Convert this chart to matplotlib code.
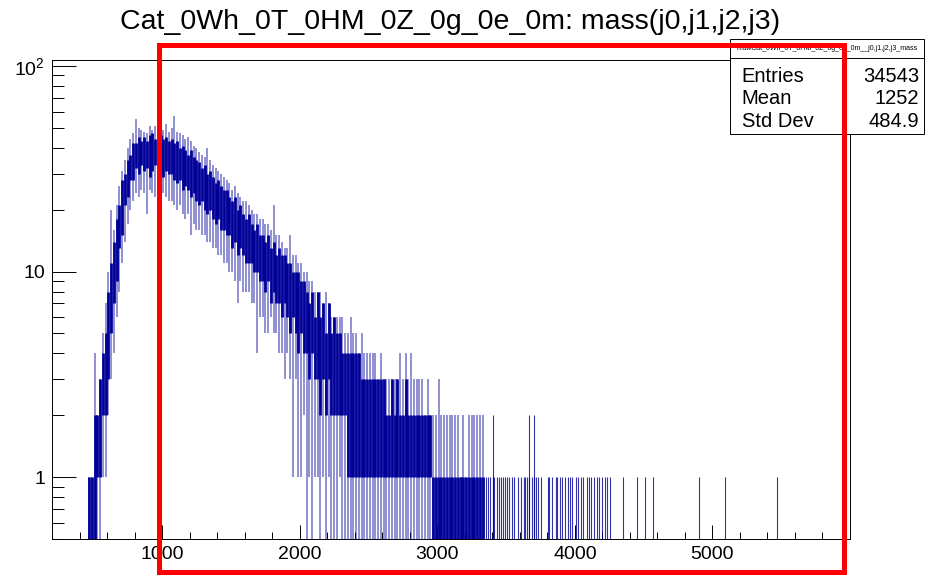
import matplotlib
matplotlib.use("Agg")
import matplotlib.pyplot as plt
import numpy as np
from matplotlib.patches import Rectangle
from matplotlib.ticker import FixedLocator, FixedFormatter, MultipleLocator, LogLocator, NullFormatter

plt.rcParams['font.family'] = ['Liberation Sans', 'DejaVu Sans']
plt.rcParams['mathtext.fontset'] = 'custom'
plt.rcParams['mathtext.rm'] = 'Liberation Sans'

title = "Cat_0Wh_0T_0HM_0Z_0g_0e_0m: mass(j0,j1,j2,j3)"
hist_name = "hrawCat_0Wh_0T_0HM_0Z_0g_0e_0m__j0,j1,j2,j3_mass"
stat_names = ["Entries", "Mean", "Std Dev"]
stat_values = ["34543", "1252", "484.9"]

# the histogram has ~1 GeV bins, read off per 20 GeV column (460 .. 3340):
# lowest bin, dark band low, dark band high, highest bin
col_start = 460
col_width = 20
col_min = [0, 0, 0, 0, 0, 1, 1, 2, 3, 4,
           6, 8, 11, 14, 17, 20, 22, 24, 23, 25,
           24, 19, 25, 24, 23, 22, 25, 24, 23, 22,
           22, 21, 20, 21, 19, 18, 19, 15, 17, 16,
           16, 15, 15, 14, 14, 13, 13, 12, 12, 11,
           11, 10, 10, 9, 7, 9, 8, 8, 8, 7,
           7, 4, 6, 6, 5, 5, 6, 5, 5, 4,
           4, 3, 4, 3, 1, 3, 1, 1, 2, 0,
           1, 0, 1, 1, 0, 1, 0, 1, 0, 0,
           0, 1, 0, 0, 0, 0, 0, 0, 0, 0,
           0, 0, 0, 0, 0, 0, 0, 0, 0, 0,
           0, 0, 0, 0, 0, 0, 0, 0, 0, 0,
           0, 0, 0, 0, 0, 0, 0, 0, 0, 0,
           0, 0, 0, 0, 0, 0, 0, 0, 0, 0,
           0, 0, 0, 0]
col_lo = [0, 0, 0, 1, 1, 2, 2, 3, 5, 7,
          9, 13, 15, 21, 23, 28, 28, 32, 30, 33,
          31, 32, 29, 31, 33, 30, 31, 29, 31, 30,
          30, 28, 27, 28, 25, 26, 25, 23, 24, 22,
          21, 22, 20, 19, 20, 18, 17, 18, 16, 16,
          15, 15, 13, 14, 12, 13, 12, 11, 11, 11,
          10, 10, 9, 9, 8, 9, 7, 8, 7, 7,
          6, 7, 6, 5, 6, 5, 4, 5, 4, 4,
          3, 4, 3, 3, 2, 3, 2, 3, 2, 2,
          2, 2, 2, 2, 1, 1, 1, 1, 1, 1,
          1, 1, 1, 1, 1, 1, 1, 1, 1, 1,
          1, 1, 1, 1, 1, 1, 1, 1, 1, 1,
          1, 1, 1, 1, 1, 0, 0, 0, 0, 0,
          0, 0, 0, 0, 0, 0, 0, 0, 0, 0,
          0, 0, 0, 0]
col_hi = [1, 1, 2, 2, 3, 4, 5, 8, 11, 14,
          18, 21, 28, 30, 35, 37, 42, 42, 45, 43,
          45, 43, 46, 47, 44, 43, 46, 44, 45, 43,
          44, 42, 43, 40, 41, 39, 37, 39, 36, 35,
          34, 32, 33, 30, 31, 29, 27, 28, 26, 25,
          25, 23, 22, 23, 20, 21, 19, 18, 19, 17,
          16, 17, 15, 15, 14, 15, 13, 14, 12, 13,
          12, 12, 11, 11, 10, 10, 10, 9, 9, 8,
          7, 8, 6, 8, 6, 7, 5, 7, 5, 6,
          5, 5, 4, 4, 4, 4, 4, 4, 4, 3,
          3, 3, 3, 3, 3, 3, 3, 3, 2, 2,
          3, 2, 3, 2, 2, 3, 2, 2, 2, 2,
          2, 2, 2, 2, 2, 1, 1, 1, 1, 1,
          1, 1, 1, 1, 1, 1, 1, 1, 1, 1,
          1, 1, 1, 1]
col_max = [1, 1, 4, 2, 3, 5, 7, 10, 20, 16,
           21, 26, 31, 35, 40, 44, 47, 55, 50, 49,
           48, 47, 51, 49, 51, 48, 50, 49, 52, 48,
           50, 57, 48, 47, 46, 44, 45, 43, 41, 40,
           38, 37, 36, 40, 35, 33, 32, 31, 30, 29,
           28, 27, 25, 26, 24, 23, 22, 22, 21, 20,
           19, 19, 18, 18, 17, 17, 16, 21, 15, 15,
           14, 13, 13, 15, 12, 12, 11, 11, 10, 10,
           9, 9, 8, 8, 8, 7, 8, 7, 6, 6,
           6, 6, 6, 5, 5, 6, 5, 5, 4, 5,
           4, 4, 4, 4, 4, 3, 4, 3, 3, 3,
           3, 3, 3, 4, 3, 4, 3, 4, 3, 3,
           3, 3, 2, 3, 2, 2, 2, 3, 2, 2,
           2, 2, 2, 2, 2, 1, 2, 1, 2, 2,
           2, 2, 2, 2]

# isolated bins in the far tail
tail_one = [3355, 3367, 3386, 3403, 3415, 3435, 3451, 3464, 3476, 3492,
            3507, 3524, 3541, 3560, 3584, 3608, 3628, 3637, 3652, 3669,
            3686, 3705, 3717, 3734, 3753, 3802, 3814, 3831, 3862, 3874,
            3893, 3910, 3927, 3947, 3966, 3983, 4007, 4024, 4043, 4062,
            4087, 4104, 4121, 4140, 4159, 4176, 4200, 4217, 4236, 4256,
            4348, 4449, 4507, 4565, 4899, 5094, 5471]
tail_two = [3406, 3667, 3703]

x_major = [1000, 2000, 3000, 4000, 5000]

blue = '#000099'
floor = 0.3

fig = plt.figure(figsize=(9.32, 5.76), dpi=100)
ax = fig.add_axes([0.0558, 0.0642, 0.8562, 0.8316])

centers = col_start + col_width * (np.arange(len(col_lo)) + 0.5)
cmin = np.where(np.array(col_min) > 0, col_min, floor)
clo = np.where(np.array(col_lo) > 0, col_lo, floor)
ax.vlines(centers, cmin, col_max, color=blue, alpha=0.55, lw=1.1)
ax.vlines(centers, clo, col_hi, color=blue, lw=2.0)
ax.vlines(tail_one, floor, 1, color=blue, lw=0.8, alpha=0.8)
ax.vlines(tail_two, floor, 2, color=blue, lw=0.8, alpha=0.8)

ax.set_xlim(200, 6000)
ax.set_yscale('log')
ax.set_ylim(0.5, 107)

ax.xaxis.set_major_locator(FixedLocator(x_major))
ax.xaxis.set_minor_locator(MultipleLocator(200))
ax.yaxis.set_major_locator(FixedLocator([1, 10, 100]))
ax.yaxis.set_major_formatter(FixedFormatter(['1', '10', r'$\mathregular{10^{2}}$']))
ax.yaxis.set_minor_locator(LogLocator(subs=np.arange(2, 10)))
ax.yaxis.set_minor_formatter(NullFormatter())
ax.tick_params(axis='x', which='major', direction='in', length=10, width=0.7,
               top=False, labelsize=14, pad=5)
ax.tick_params(axis='x', which='minor', direction='in', length=5, width=0.7, top=False)
ax.tick_params(axis='y', which='major', direction='in', length=17, width=0.7,
               right=False, labelsize=14, pad=5)
ax.tick_params(axis='y', which='minor', direction='in', length=8.6, width=0.7, right=False)
for s in ax.spines.values():
    s.set_linewidth(0.7)

fig.text(0.4825, 0.962, title, fontsize=20.5, ha='center', va='center')

# stats box
fig.add_artist(Rectangle((0.7833, 0.7674), 0.2082, 0.1649, transform=fig.transFigure,
                         fc='white', ec='black', lw=0.7, zorder=5))
fig.add_artist(plt.Line2D([0.7833, 0.9915], [0.8993, 0.8993], transform=fig.transFigure,
                          color='black', lw=0.7, zorder=6))
fig.text(0.8873, 0.9158, hist_name, fontsize=5, ha='center', va='center', zorder=7)
for i, (n, v) in enumerate(zip(stat_names, stat_values)):
    y = 0.8576 - i * 0.039
    fig.text(0.796, y, n, fontsize=14.5, ha='left', va='baseline', zorder=7)
    fig.text(0.986, y, v, fontsize=14.5, ha='right', va='baseline', zorder=7)

# red highlight frame
fig.add_artist(Rectangle((0.1711, 0.0078), 0.735, 0.9149, transform=fig.transFigure,
                         fill=False, ec='#ff0000', lw=3.6, zorder=10))

fig.savefig('out.png', dpi=100)
